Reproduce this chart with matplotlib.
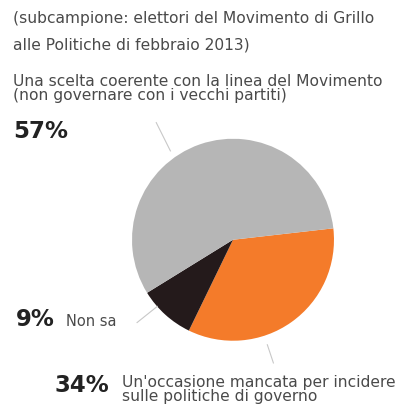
import matplotlib.pyplot as plt

# dati del sondaggio
etichette = ["Un'occasione mancata per incidere\nsulle politiche di governo", "Non sa",
             "Una scelta coerente con la linea del Movimento\n(non governare con i vecchi partiti)"]
valori = [34, 9, 57]
colori = ["#F47B2A", "#241A1B", "#B6B6B6"]

testo_col = "#4a4a4a"

fig = plt.figure(figsize=(4, 4.13), dpi=100)
fig.patch.set_facecolor("white")

ax = fig.add_axes([0.325, 0.17, 0.515, 0.499])
wedges, _ = ax.pie(valori, colors=colori, startangle=6.5, counterclock=False,
                   wedgeprops=dict(linewidth=0))
ax.set_aspect("equal")
ax.set_xlim(-1.02, 1.02)
ax.set_ylim(-1.02, 1.02)

# linee di richiamo
grigio = "#c8c8c8"
ax.plot([-0.62, -0.76], [0.88, 1.16], color=grigio, lw=0.8, clip_on=False)
ax.plot([-0.75, -0.95], [-0.66, -0.82], color=grigio, lw=0.8, clip_on=False)
ax.plot([0.34, 0.40], [-1.04, -1.22], color=grigio, lw=0.8, clip_on=False)

# testi
fs = 11.2
fig.text(13/400, 1 - 18/413, "(subcampione: elettori del Movimento di Grillo",
         fontsize=fs, color=testo_col, va="center")
fig.text(13/400, 1 - 45/413, "alle Politiche di febbraio 2013)",
         fontsize=fs, color=testo_col, va="center")
fig.text(13/400, 1 - 88.5/413, etichette[2], fontsize=fs, color=testo_col,
         va="center", linespacing=0.9)
fig.text(13/400, 1 - 131/413, f"{valori[2]}%", fontsize=16.5, weight="heavy",
         color="#222222", va="center")
fig.text(16/400, 1 - 320/413, f"{valori[1]}%", fontsize=16.5, weight="heavy",
         color="#222222", va="center")
fig.text(66/400, 1 - 321/413, etichette[1], fontsize=10.5,
         color=testo_col, va="center")
fig.text(54/400, 1 - 386/413, f"{valori[0]}%", fontsize=16.5, weight="heavy",
         color="#222222", va="center")
fig.text(122/400, 1 - 389.5/413, etichette[0], fontsize=fs, color=testo_col,
         va="center", linespacing=0.85)

fig.savefig("out.png", dpi=100)
